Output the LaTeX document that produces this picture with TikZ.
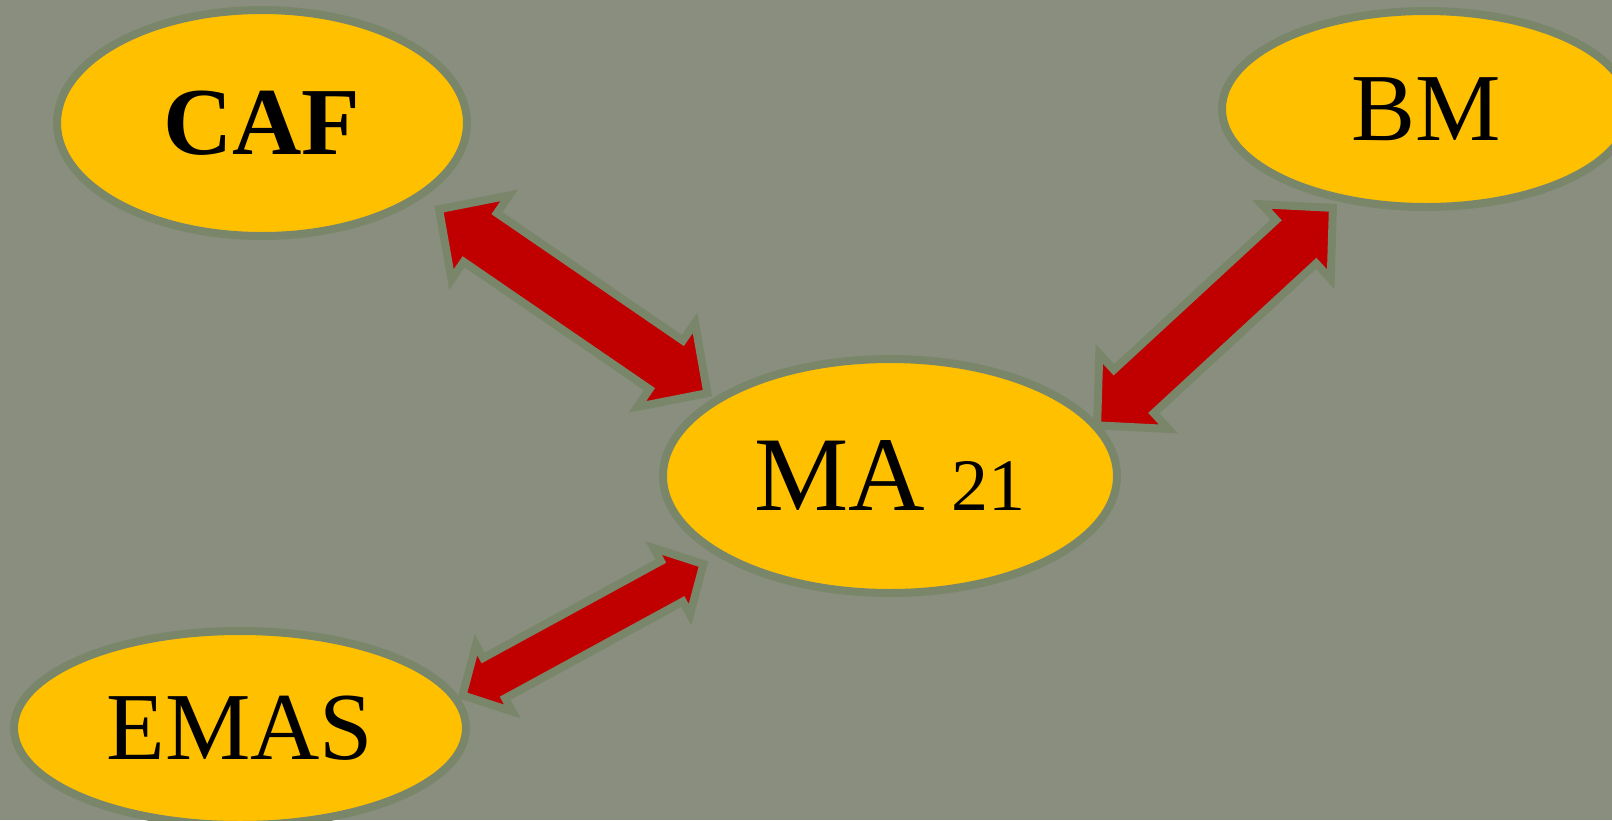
\documentclass[tikz,border=0pt]{standalone}
\usepackage{fontspec}
\setmainfont{Liberation Serif}
\usepackage{tikz}
\usetikzlibrary{positioning,calc,shapes.geometric}

\definecolor{slate}{RGB}{137,142,127}
\definecolor{sage}{RGB}{122,134,106}
\definecolor{amber}{RGB}{255,192,0}
\definecolor{crimson}{RGB}{192,0,0}

\newcommand{\linkarrow}[7]{%
        \coordinate (tipa) at ($#1!#3!#2$);
        \coordinate (tipb) at ($#2!#4!#1$);
        \coordinate (basea) at ($(tipa)!#5!(tipb)$);
        \coordinate (baseb) at ($(tipb)!#5!(tipa)$);
        \draw[blockarrow] (tipa)
                -- ($(basea)!#6!90:(tipb)$) -- ($(basea)!#7!90:(tipb)$)
                -- ($(baseb)!#7!-90:(tipa)$) -- ($(baseb)!#6!-90:(tipa)$)
                -- (tipb)
                -- ($(baseb)!#6!90:(tipa)$) -- ($(baseb)!#7!90:(tipa)$)
                -- ($(basea)!#7!-90:(tipb)$) -- ($(basea)!#6!-90:(tipb)$)
                -- cycle;}

\begin{document}
\begin{tikzpicture}[x=0.5pt, y=-0.5pt,
        bubble/.style={ellipse, draw=sage, fill=amber, line width=4pt, text=black, inner sep=0pt, font=\fontsize{48}{52}\selectfont},
        blockarrow/.style={draw=sage, fill=crimson, line width=4pt, line join=miter},
]
        \useasboundingbox (0,0) rectangle (1612,820);
        \clip (0,0) rectangle (1612,820);
        \fill[slate] (0,0) rectangle (1612,820);

        \node[bubble, minimum width=205pt, minimum height=113pt] (caf) at (262,123) {\bfseries CAF};
        \node[bubble, minimum width=204pt, minimum height=98pt] (bm) at (1426,109) {BM};
        \node[bubble, minimum width=227pt, minimum height=117pt, font=\fontsize{53}{56}\selectfont] (ma) at (890,476) {MA {\fontsize{37}{40}\selectfont 21}};
        \node[bubble, minimum width=226pt, minimum height=97pt] (emas) at (240,728) {EMAS};

        \linkarrow{(caf.-25)}{(ma.156)}{10pt}{4pt}{25pt}{25.5pt}{14.75pt}
        \linkarrow{(bm.227)}{(ma.14)}{4.5pt}{-1pt}{25pt}{25.5pt}{14.75pt}
        \linkarrow{(emas.8)}{(ma.205)}{2pt}{8pt}{18pt}{19pt}{11.5pt}
\end{tikzpicture}
\end{document}
